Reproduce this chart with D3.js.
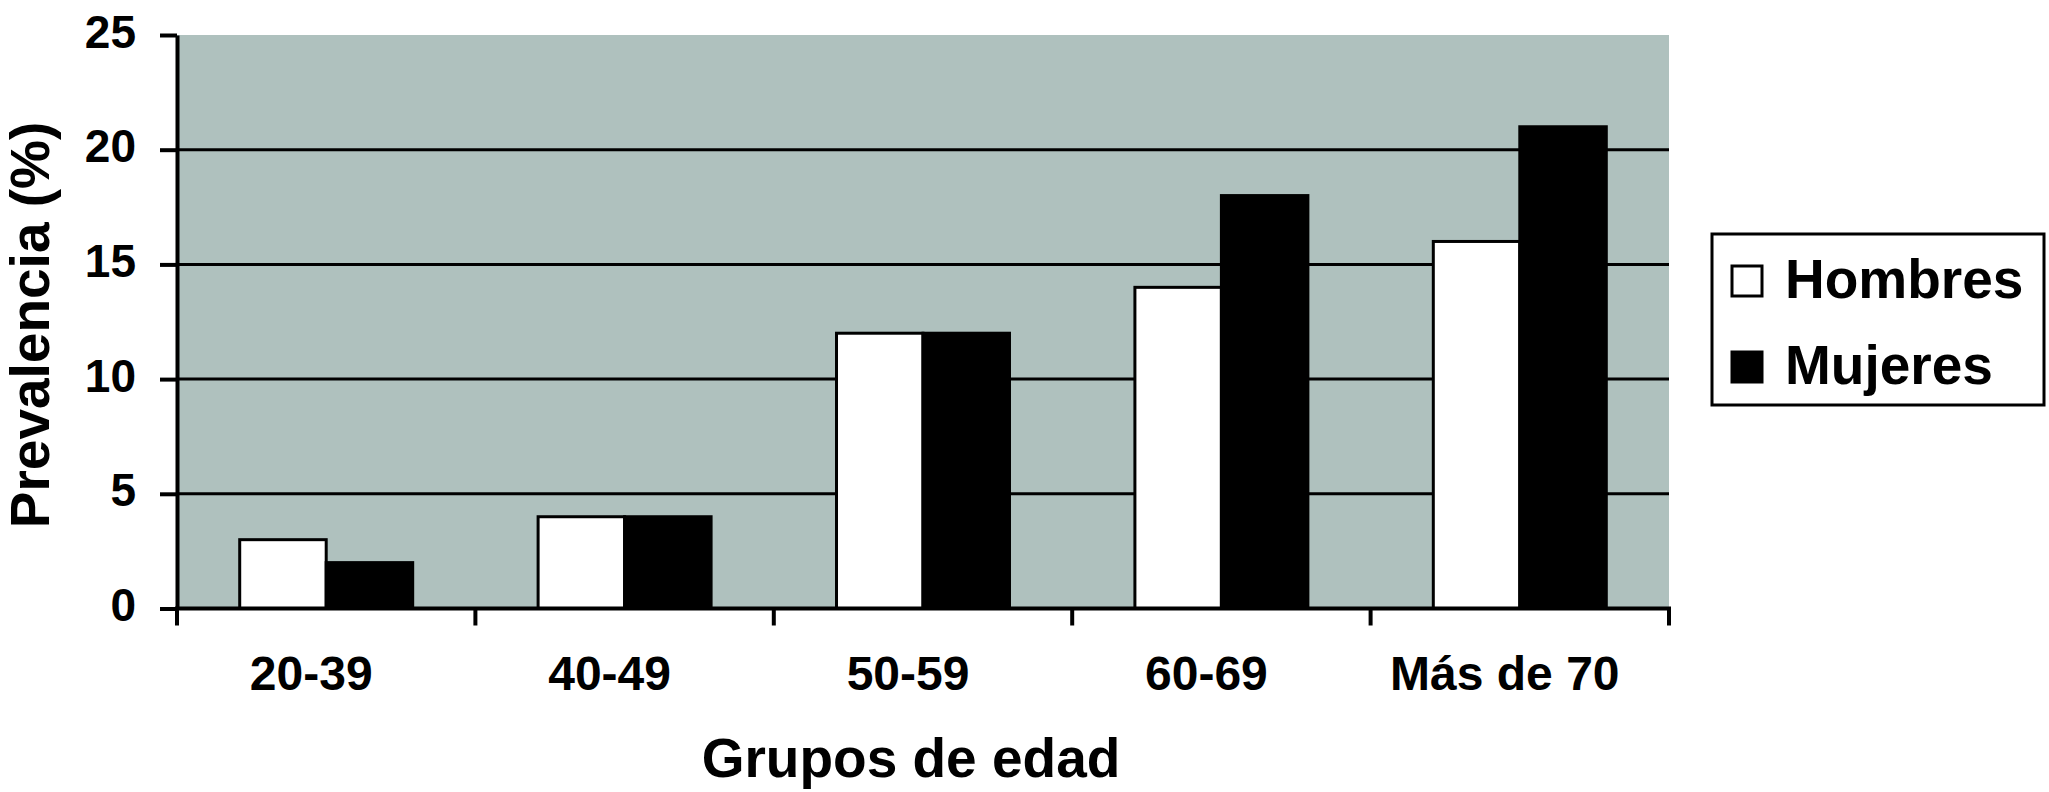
<!DOCTYPE html>
<html>
<head>
<meta charset="utf-8">
<script src="https://cdn.jsdelivr.net/npm/d3@7"></script>
<style>
  body { margin: 0; background: #fff; }
  text { font-family: "Liberation Sans", Arial, sans-serif; font-weight: bold; fill: #000; }
</style>
</head>
<body>
<div id="chart"></div>
<script>

// age groups on the x axis
var groups = ["20-39", "40-49", "50-59", "60-69", "Más de 70"];

// prevalence (%) per group
var hombres = [3, 4, 12, 14, 16];
var mujeres = [2, 4, 12, 18, 21];

var seriesNames = ["Hombres", "Mujeres"];
var seriesColors = ["#ffffff", "#000000"];

// y ticks
var yTicks = [0, 5, 10, 15, 20, 25];

var width = 2049, height = 792;
var plot = {left: 177, right: 1669, top: 35, bottom: 608.5};

var svg = d3.select("#chart")
  .append("svg")
    .attr("width", width)
    .attr("height", height);

// scales
var x = d3.scaleBand()
  .domain(groups)
  .range([plot.left, plot.right])
  .padding(0);

var x1 = d3.scaleBand()
  .domain(seriesNames)
  .range([0, x.bandwidth()])
  .paddingInner(0)
  .paddingOuter(0.725);

var y = d3.scaleLinear()
  .domain([0, 25])
  .range([plot.bottom, plot.top]);

// grey plot background
svg.append("rect")
  .attr("x", plot.left)
  .attr("y", y(25))
  .attr("width", plot.right - plot.left)
  .attr("height", plot.bottom - y(25))
  .attr("fill", "#afc1be");

// grid lines
svg.append("g")
  .selectAll("line")
  .data(yTicks.filter(function(d) { return d > 0 && d < 25; }))
  .enter()
  .append("line")
    .attr("x1", plot.left)
    .attr("x2", plot.right)
    .attr("y1", function(d) { return y(d); })
    .attr("y2", function(d) { return y(d); })
    .attr("stroke", "#000")
    .attr("stroke-width", 3);

// bars
var data = groups.map(function(g, i) {
  return {group: g, values: [hombres[i], mujeres[i]]};
});

svg.append("g")
  .selectAll("g")
  .data(data)
  .enter()
  .append("g")
    .attr("transform", function(d) { return "translate(" + x(d.group) + ",0)"; })
  .selectAll("rect")
  .data(function(d) {
    return d.values.map(function(v, j) { return {name: seriesNames[j], value: v, color: seriesColors[j]}; });
  })
  .enter()
  .append("rect")
    .attr("x", function(d) { return x1(d.name); })
    .attr("y", function(d) { return y(d.value); })
    .attr("width", x1.bandwidth())
    .attr("height", function(d) { return plot.bottom - y(d.value); })
    .attr("fill", function(d) { return d.color; })
    .attr("stroke", "#000")
    .attr("stroke-width", 3);

// y axis
var yAxis = svg.append("g")
  .attr("transform", "translate(" + plot.left + ",0)")
  .call(d3.axisLeft(y)
    .tickValues(yTicks)
    .tickSize(17)
    .tickSizeOuter(0)
    .tickPadding(24));

yAxis.select(".domain").attr("stroke-width", 4);
yAxis.selectAll(".tick line").attr("stroke-width", 4);
yAxis.selectAll("text")
  .attr("dy", 12)
  .style("font-size", "46px")
  .style("font-family", "'Liberation Sans', Arial, sans-serif")
  .style("font-weight", "bold");

// x axis: labels at band centres
var xAxis = svg.append("g")
  .attr("transform", "translate(0," + plot.bottom + ")")
  .call(d3.axisBottom(x).tickSize(0).tickSizeOuter(0));

xAxis.select(".domain").remove();
xAxis.selectAll("text")
  .attr("y", 690 - plot.bottom)
  .attr("dy", 0)
  .attr("dx", -15)
  .style("font-size", "48px")
  .style("font-family", "'Liberation Sans', Arial, sans-serif")
  .style("font-weight", "bold");

// x axis line and ticks at band edges
svg.append("line")
  .attr("x1", plot.left - 2)
  .attr("x2", plot.right + 2)
  .attr("y1", plot.bottom)
  .attr("y2", plot.bottom)
  .attr("stroke", "#000")
  .attr("stroke-width", 4);

var edges = groups.map(function(g) { return x(g); }).concat([plot.right]);
svg.append("g")
  .selectAll("line")
  .data(edges)
  .enter()
  .append("line")
    .attr("x1", function(d) { return d; })
    .attr("x2", function(d) { return d; })
    .attr("y1", plot.bottom)
    .attr("y2", plot.bottom + 17)
    .attr("stroke", "#000")
    .attr("stroke-width", 4);

// axis titles
svg.append("text")
  .attr("x", 911)
  .attr("y", 777)
  .attr("text-anchor", "middle")
  .style("font-size", "55px")
  .text("Grupos de edad");

svg.append("text")
  .attr("transform", "translate(49," + 325 + ") rotate(-90)")
  .attr("text-anchor", "middle")
  .style("font-size", "55px")
  .text("Prevalencia (%)");

// legend
var legend = svg.append("g");

legend.append("rect")
  .attr("x", 1712)
  .attr("y", 234)
  .attr("width", 332)
  .attr("height", 171)
  .attr("fill", "#fff")
  .attr("stroke", "#000")
  .attr("stroke-width", 3);

var items = legend.selectAll("g.item")
  .data(seriesNames)
  .enter()
  .append("g")
    .attr("class", "item")
    .attr("transform", function(d, i) { return "translate(1732," + (266 + i * 86) + ")"; });

items.append("rect")
  .attr("width", 30)
  .attr("height", 30)
  .attr("fill", function(d, i) { return seriesColors[i]; })
  .attr("stroke", "#000")
  .attr("stroke-width", 3);

items.append("text")
  .attr("x", 53)
  .attr("y", 32)
  .style("font-size", "55px")
  .text(function(d) { return d; });

</script>
</body>
</html>
